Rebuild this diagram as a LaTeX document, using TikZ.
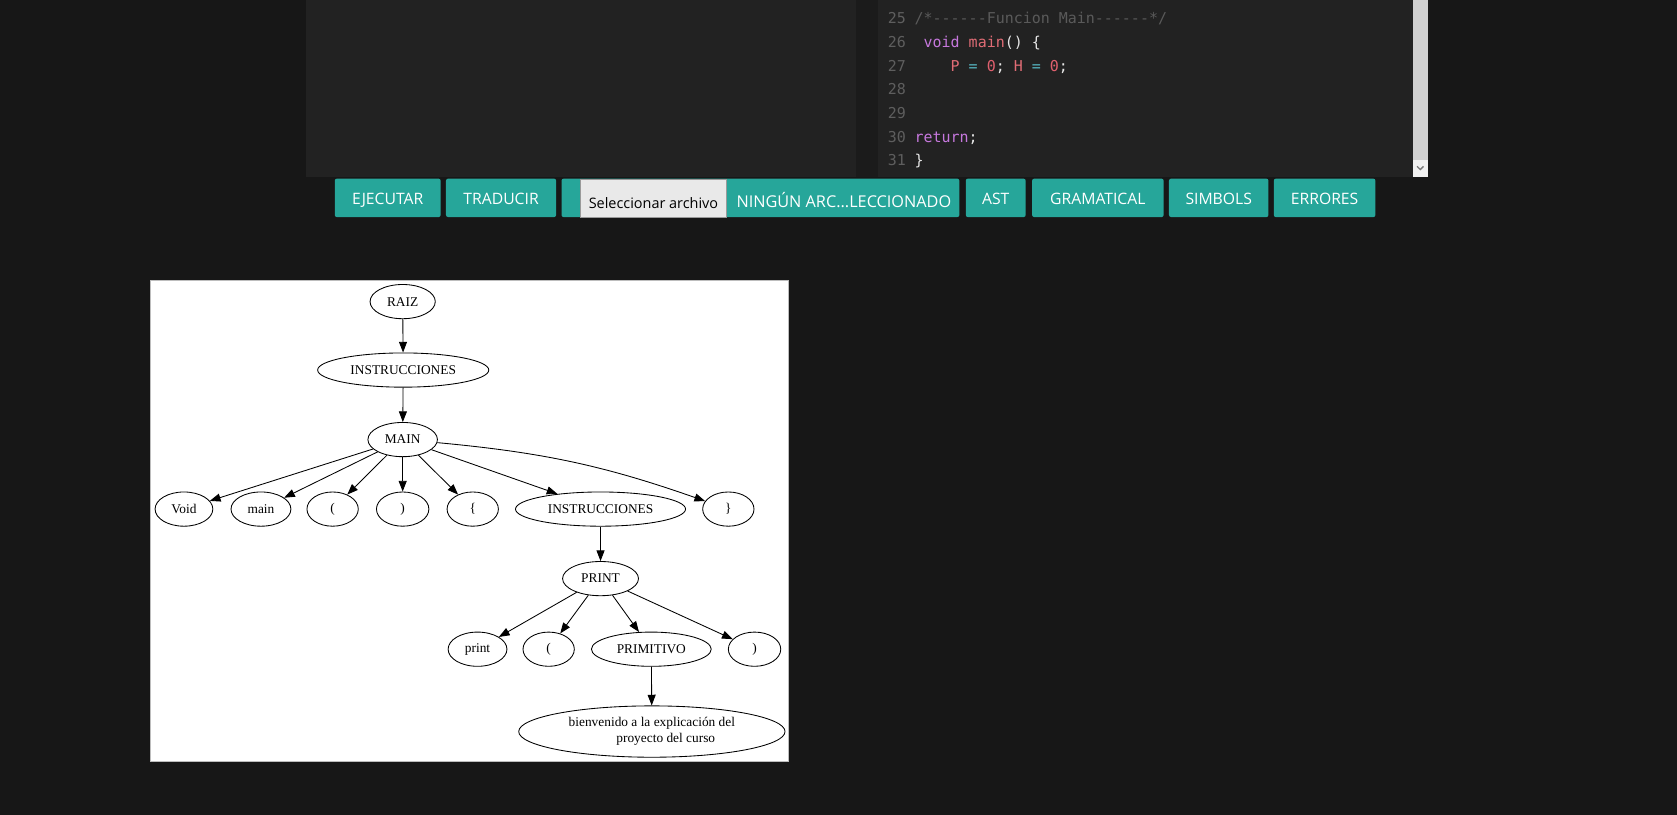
\documentclass[tikz,border=0pt]{standalone}
\usepackage{fontspec}
\setmainfont{Liberation Serif}
\newfontfamily\uifont{Open Sans}
\newfontfamily\codefont{DejaVu Sans Mono}
\usetikzlibrary{shapes.geometric,arrows.meta}
\definecolor{bgc}{HTML}{171717}
\definecolor{panelc}{HTML}{222222}
\definecolor{gutterc}{HTML}{1B1B1B}
\definecolor{tealc}{HTML}{26A69A}
\definecolor{cmtc}{HTML}{5A5A5A}
\definecolor{lnc}{HTML}{5E5E5E}
\definecolor{kwc}{HTML}{C678DD}
\definecolor{idc}{HTML}{E06C75}
\definecolor{opc}{HTML}{56B6C2}
\definecolor{numc}{HTML}{E0606E}
\definecolor{plc}{HTML}{E6E6E6}
\definecolor{sbc}{HTML}{D0D0D0}
\definecolor{sbac}{HTML}{F1F1F1}
\definecolor{chevc}{HTML}{7A7A7A}
\definecolor{selc}{HTML}{E9E9E9}
\definecolor{selbc}{HTML}{9A9A9A}
\definecolor{imgbc}{HTML}{BDBDBD}
\newcommand\csp{\phantom{x}}
\tikzset{
  gnode/.style={ellipse, draw=black, line width=0.8pt, fill=white, inner sep=0pt,
    font=\fontsize{12.5}{15}\selectfont, minimum height=32pt},
  garrow/.style={-{Triangle[length=10pt,width=7.5pt]}, line width=0.8pt},
  btn/.style={fill=tealc, rounded corners=2pt, text=white, inner sep=0pt,
    font=\uifont\fontsize{14.7}{16}\selectfont, minimum height=36pt,
    text height=12.9pt, text depth=0pt},
  codeline/.style={anchor=base west, inner sep=0pt, text=plc,
    font=\codefont\fontsize{14}{16}\selectfont},
  lineno/.style={anchor=base west, inner sep=0pt, text=lnc,
    font=\codefont\fontsize{14}{16}\selectfont}
}
\begin{document}
\begin{tikzpicture}[x=1pt,y=-1pt]
\useasboundingbox (0,0) rectangle (1568,762);
\fill[bgc] (0,0) rectangle (1568,762);
% editor panels
\fill[panelc] (286,0) rectangle (800,165.5);
\fill[gutterc] (800,0) rectangle (821,165.5);
\fill[panelc] (821,0) rectangle (1321,165.5);
\fill[sbc] (1321,0) rectangle (1335,150);
\fill[sbac] (1321,150) rectangle (1335,165.5);
\coordinate (chA) at (1325,155.5);
\coordinate (chB) at (1328,158.5);
\coordinate (chC) at (1331,155.5);
\draw[chevc, line width=1.2pt] (chA) -- (chB) -- (chC);
% code
\node[lineno] (n25) at (830,22) {25};
\node[lineno] (n26) at (830,44.2) {26};
\node[lineno] (n27) at (830,66.4) {27};
\node[lineno] (n28) at (830,88.6) {28};
\node[lineno] (n29) at (830,110.8) {29};
\node[lineno] (n30) at (830,133) {30};
\node[lineno] (n31) at (830,155.2) {31};
\node[codeline, text=cmtc] (c25) at (855,22) {/*------Funcion Main------*/};
\node[codeline] (c26) at (855,44.2) {\csp\textcolor{kwc}{void}\csp\textcolor{idc}{main}()\csp\{};
\node[codeline] (c27) at (855,66.4) {\csp\csp\csp\csp\textcolor{idc}{P}\csp\textcolor{opc}{=}\csp\textcolor{numc}{0};\csp\textcolor{idc}{H}\csp\textcolor{opc}{=}\csp\textcolor{numc}{0};};
\node[codeline] (c30) at (855,133) {\textcolor{kwc}{return};};
\node[codeline] (c31) at (855,155.2) {\}};
% buttons
\node[btn, minimum width=99pt] (bEje) at (362.5,185) {EJECUTAR};
\node[btn, minimum width=103pt] (bTra) at (468.5,185) {TRADUCIR};
\node[btn, minimum width=372pt] (bFile) at (711,185) {};
\node[fill=selc, draw=selbc, line width=0.5pt, inner sep=0pt, minimum width=136pt, minimum height=35pt, text height=18.6pt, text depth=0pt, text=black, font=\uifont\fontsize{13.5}{16}\selectfont] (bSel) at (611,185.5) {Seleccionar archivo};
\node[text=white, inner sep=0pt, anchor=base, font=\uifont\fontsize{15.2}{16}\selectfont] (bNone) at (789,193.8) {NINGÚN ARC...LECCIONADO};
\node[btn, minimum width=56pt] (bAst) at (931,185) {AST};
\node[btn, minimum width=123pt] (bGra) at (1026.5,185) {GRAMATICAL};
\node[btn, minimum width=93pt] (bSim) at (1139.5,185) {SIMBOLS};
\node[btn, minimum width=95pt] (bErr) at (1238.5,185) {ERRORES};
% graph image
\fill[white] (141,262) rectangle (737,712);
\draw[imgbc, line width=0.8pt] (141,262) rectangle (737,712);
\node[gnode, minimum width=61pt] (raiz) at (376.5,282) {RAIZ};
\node[gnode, minimum width=160pt] (ins1) at (377,346) {INSTRUCCIONES};
\node[gnode, minimum width=65pt] (mainN) at (376.5,411) {MAIN};
\node[gnode, minimum width=54pt] (void) at (172,476) {Void};
\node[gnode, minimum width=56pt] (mainT) at (244,476) {main};
\node[gnode, minimum width=48pt] (lp1) at (311,476) {(};
\node[gnode, minimum width=49pt] (rp1) at (376.5,476) {)};
\node[gnode, minimum width=48pt] (lb) at (442,476) {\{};
\node[gnode, minimum width=159pt] (ins2) at (561.5,476) {INSTRUCCIONES};
\node[gnode, minimum width=48pt] (rb) at (681,476) {\}};
\node[gnode, minimum width=71pt] (printN) at (561.5,541) {PRINT};
\node[gnode, minimum width=55pt] (printT) at (446.5,607) {print};
\node[gnode, minimum width=48pt] (lp2) at (513,607) {(};
\node[gnode, minimum width=112pt] (prim) at (609,607) {PRIMITIVO};
\node[gnode, minimum width=49pt] (rp2) at (705.5,607) {)};
\node[gnode, minimum width=249pt, minimum height=48pt, align=center] (msg) at (609.5,684) {bienvenido a la explicación del\\\hspace{26pt}proyecto del curso};
\draw[garrow] (raiz) -- (ins1);
\draw[garrow] (ins1) -- (mainN);
\draw[garrow] (mainN) -- (void);
\draw[garrow] (mainN) -- (mainT);
\draw[garrow] (mainN) -- (lp1);
\draw[garrow] (mainN) -- (rp1);
\draw[garrow] (mainN) -- (lb);
\draw[garrow] (mainN) -- (ins2);
\draw[garrow] (mainN) to[bend left=7] (rb);
\draw[garrow] (ins2) -- (printN);
\draw[garrow] (printN) -- (printT);
\draw[garrow] (printN) -- (lp2);
\draw[garrow] (printN) -- (prim);
\draw[garrow] (printN) -- (rp2);
\draw[garrow] (prim) -- (msg);
\end{tikzpicture}
\end{document}
